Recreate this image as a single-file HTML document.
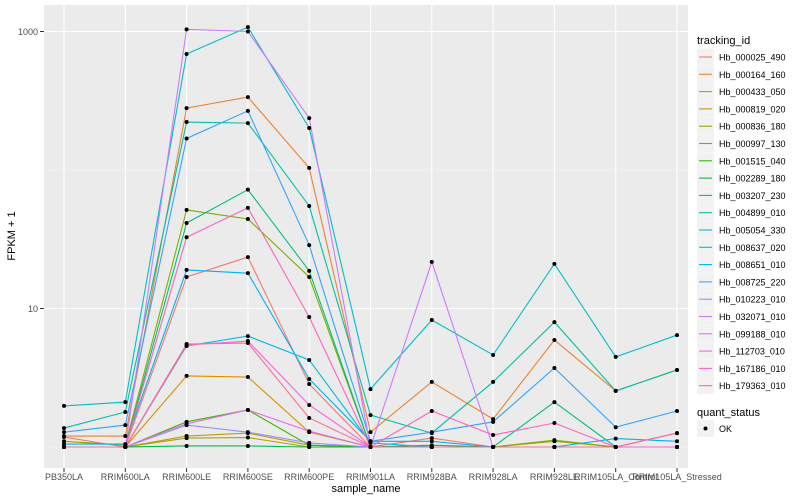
<!DOCTYPE html>
<html><head><meta charset="utf-8"><style>
body{margin:0;background:#fff}
svg{display:block;font-family:"Liberation Sans",sans-serif}
</style></head><body>
<svg id="chart" width="800" height="500" xmlns="http://www.w3.org/2000/svg">
<rect x="44" y="5" width="644" height="463" fill="#ebebeb"/>
<g id="grid"></g><g id="series"></g><g id="axes"></g><g id="legend"></g>
</svg>
<script>
const categories=["PB350LA","RRIM600LA","RRIM600LE","RRIM600SE","RRIM600PE","RRIM901LA","RRIM928BA","RRIM928LA","RRIM928LE","RRIM105LA_Control","RRIM105LA_Stressed"];
const seriesNames=["Hb_000025_490","Hb_000164_160","Hb_000433_050","Hb_000819_020","Hb_000836_180","Hb_000997_130","Hb_001515_040","Hb_002289_180","Hb_003207_230","Hb_004899_010","Hb_005054_330","Hb_008637_020","Hb_008651_010","Hb_008725_220","Hb_010223_010","Hb_032071_010","Hb_099188_010","Hb_112703_010","Hb_167186_010","Hb_179363_010"];
const colors=["#F8766D","#EA8331","#D89000","#C09B00","#A3A500","#7CAE00","#39B600","#00BB4E","#00BF7D","#00C1A3","#00BFC4","#00BAE0","#00B0F6","#35A2FF","#9590FF","#C77CFF","#E76BF3","#FA62DB","#FF62BC","#FF6C91"];
const s000025=[1.18,1,16.9,23.5,2.85,1,1.16,1,1,1,1];
const s000164=[1.2,1.2,280,336,103.5,1.28,2.95,1.59,5.92,2.54,3.6];
const s000433=[1,1,3.26,3.2,1.28,1,1,1,1,1,1];
const s000819=[1,1,1.2,1.26,1.03,1,1,1,1,1,1];
const s000836=[1,1,1.16,1.17,1,1,1,1,1.1,1,1];
const s000997=[1.1,1.03,51.5,44.3,16.9,1,1,1,1.12,1,1];
const s001515=[1,1,1.52,1.85,1.03,1,1,1,1,1,1];
const s002289=[1,1,1.017,1.017,1,1,1.03,1,1,1,1];
const s003207=[1,1,41.4,72.1,18.7,1,1,1,2.11,1,1];
const s004899=[1.37,1.79,222,218,55,1.7,1.26,2.95,7.98,2.54,3.6];
const s005054=[1.98,2.11,688,1075,201,2.62,8.26,4.62,21,4.47,6.43];
const s008637=[1,1,5.36,6.32,4.25,1.07,1,1,1,1,1];
const s008651=[1.05,1.05,19,18,3.1,1.1,1.1,1,1,1.15,1.1];
const s008725=[1.28,1.44,169,267,28.7,1.1,1.28,1.52,3.72,1.39,1.82];
const s010223=[1,1,1.44,1.28,1.07,1,1,1,1,1,1];
const s032071=[1,1,1036,1000,237,1,21.7,1,1,1,1];
const s099188=[1,1,1.47,1.85,1.3,1,1,1,1,1,1];
const s112703=[1,1,5.45,5.82,2.01,1,1,1,1,1,1];
const s167186=[1,1,32.7,53.3,8.68,1,1.82,1.22,1.49,1,1.26];
const s179363=[1,1,5.54,5.63,1.62,1,1,1,1,1,1.26];
const seriesValues=[s000025,s000164,s000433,s000819,s000836,s000997,s001515,s002289,s003207,s004899,s005054,s008637,s008651,s008725,s010223,s032071,s099188,s112703,s167186,s179363];
const yTickValues=[10,1000];
const yTickLabels=["10","1000"];
const yMinorValues=[1,100];

const NS="http://www.w3.org/2000/svg";
const x=i=>64+i*61.3;
const y=v=>447-138.5*Math.log10(v);
function mk(tag,attrs,parent){const e=document.createElementNS(NS,tag);for(const k in attrs)e.setAttribute(k,attrs[k]);parent.appendChild(e);return e;}
const grid=document.getElementById('grid'),ser=document.getElementById('series'),axes=document.getElementById('axes'),leg=document.getElementById('legend');

yMinorValues.forEach(v=>{const l=mk('line',{x1:44,x2:688,y1:y(v),y2:y(v),stroke:'#f7f7f7','stroke-width':0.6},grid);

});
yTickValues.forEach((v,i)=>{const l=mk('line',{x1:44,x2:688,y1:y(v),y2:y(v),stroke:'#fff','stroke-width':1.1},grid);


const t=mk('line',{x1:40,x2:44,y1:y(v),y2:y(v),stroke:'#333','stroke-width':1},axes);


const tx=mk('text',{x:38,y:y(v)+3.5,'text-anchor':'end','font-size':9,fill:'#4d4d4d'},axes);tx.textContent=yTickLabels[i];

});
categories.forEach((c,i)=>{const l=mk('line',{x1:x(i),x2:x(i),y1:5,y2:468,stroke:'#fff','stroke-width':1.1},grid);


const t=mk('line',{x1:x(i),x2:x(i),y1:468,y2:472,stroke:'#333','stroke-width':1},axes);


const tx=mk('text',{x:x(i),y:480,'text-anchor':'middle','font-size':9,fill:'#4d4d4d'},axes);tx.textContent=c;

});

seriesValues.forEach((vals,si)=>{const g=mk('g',{},ser);


const p=mk('polyline',{points:vals.map((v,i)=>x(i)+','+y(v)).join(' '),fill:'none',stroke:colors[si],'stroke-width':1.1},g);

});
seriesValues.forEach((vals,si)=>{vals.forEach((v,i)=>{const c=mk('circle',{cx:x(i),cy:y(v),r:2,fill:'#000'},ser);

});});

let t=mk('text',{x:366,y:492,'text-anchor':'middle','font-size':11,fill:'#000'},axes);t.textContent='sample_name';


t=mk('text',{x:0,y:0,'text-anchor':'middle','font-size':11,fill:'#000',transform:'translate(15,236) rotate(-90)'},axes);t.textContent='FPKM + 1';



t=mk('text',{x:697,y:44,'font-size':11,fill:'#000'},leg);t.textContent='tracking_id';


seriesNames.forEach((n,i)=>{const yy=48.5+i*17.3;const g=mk('g',{},leg);


mk('rect',{x:697,y:yy,width:17,height:17,fill:'#f2f2f2'},g);
mk('line',{x1:699,x2:712,y1:yy+8.5,y2:yy+8.5,stroke:colors[i],'stroke-width':1.1},g);
const tx=mk('text',{x:719,y:yy+12,'font-size':9,fill:'#000'},g);tx.textContent=n;});
t=mk('text',{x:697,y:416,'font-size':11,fill:'#000'},leg);t.textContent='quant_status';


const g2=mk('g',{},leg);


mk('rect',{x:697,y:420,width:17,height:17,fill:'#f2f2f2'},g2);
mk('circle',{cx:705.5,cy:428.5,r:2,fill:'#000'},g2);
const ok=mk('text',{x:719,y:432,'font-size':9,fill:'#000'},g2);ok.textContent='OK';
</script>
</body></html>
